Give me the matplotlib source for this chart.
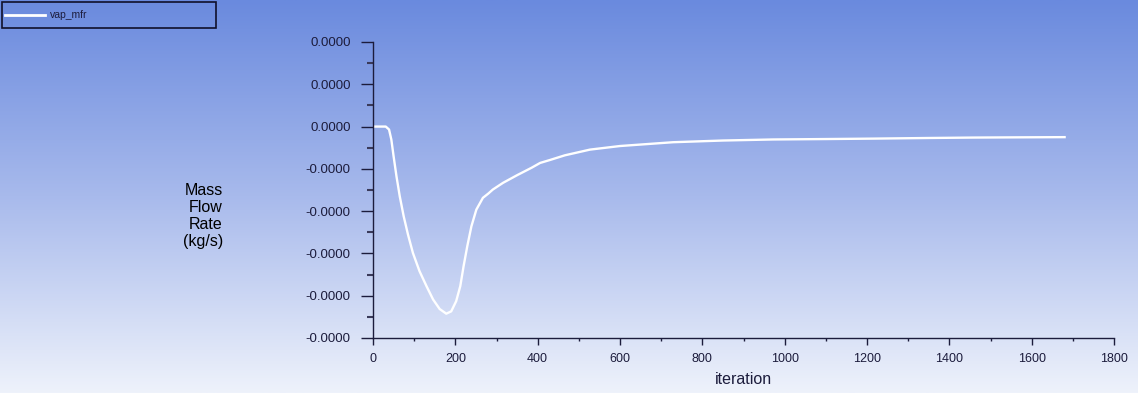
import numpy as np
import matplotlib
matplotlib.use("Agg")
import matplotlib.pyplot as plt
from matplotlib.ticker import FormatStrFormatter, MultipleLocator
from matplotlib.patches import Rectangle
from matplotlib.lines import Line2D

# ---- data ----
series_name = "vap_mfr"
iterations = [0, 20, 31, 39, 44.5, 50, 57, 65, 74.5, 85, 97, 113, 130, 146, 162,
              178, 190, 202, 212, 220, 229, 239, 251, 267, 280, 291, 316, 350,
              385, 406, 430, 466, 527, 600, 729, 850, 972, 1100, 1215, 1350,
              1458, 1560, 1680]
mass_flow = [0, 0, 0, -0.14e-6, -0.61e-6, -1.40e-6, -2.35e-6, -3.30e-6, -4.24e-6,
             -5.11e-6, -5.98e-6, -6.84e-6, -7.55e-6, -8.18e-6, -8.63e-6, -8.85e-6,
             -8.74e-6, -8.26e-6, -7.55e-6, -6.61e-6, -5.66e-6, -4.72e-6, -3.93e-6,
             -3.37e-6, -3.17e-6, -2.98e-6, -2.66e-6, -2.3e-6, -1.95e-6, -1.72e-6,
             -1.58e-6, -1.36e-6, -1.09e-6, -0.92e-6, -0.74e-6, -0.66e-6, -0.61e-6,
             -0.59e-6, -0.57e-6, -0.54e-6, -0.52e-6, -0.51e-6, -0.50e-6]
x_label = "iteration"
y_label = "Mass\nFlow\nRate\n(kg/s)"

W, H = 1138, 393
fig = plt.figure(figsize=(W / 100, H / 100), dpi=100)

# background gradient
bg = fig.add_axes([0, 0, 1, 1], zorder=-10)
top = np.array([106, 138, 222]) / 255
mid = np.array([168, 186, 236]) / 255
bot = np.array([238, 242, 251]) / 255
t = np.linspace(0, 1, 256)[:, None]
grad = np.where(t < 0.5, top + (mid - top) * (t / 0.5), mid + (bot - mid) * ((t - 0.5) / 0.5))
grad = np.repeat(grad[:, None, :], 2, axis=1)
bg.imshow(grad, aspect="auto", extent=[0, 1, 0, 1], origin="upper")
bg.axis("off")

axc = "#1c1c3c"
ax = fig.add_axes([373 / W, 55 / H, (1114 - 373) / W, (338 - 42) / H])
ax.set_facecolor("none")
ax.plot(iterations, mass_flow, color="white", lw=1.7, solid_joinstyle="round")
ax.set_xlim(0, 1800)
ax.set_ylim(-10e-6, 4e-6)
ax.xaxis.set_major_locator(MultipleLocator(200))
ax.xaxis.set_minor_locator(MultipleLocator(100))
ax.yaxis.set_major_locator(MultipleLocator(2e-6))
ax.yaxis.set_minor_locator(MultipleLocator(1e-6))
ax.yaxis.set_major_formatter(FormatStrFormatter("%.4f"))
for s in ["top", "right"]:
    ax.spines[s].set_visible(False)
for s in ["left", "bottom"]:
    ax.spines[s].set_color(axc)
    ax.spines[s].set_linewidth(1.0)
ax.tick_params(axis="y", which="major", length=9, width=1, color=axc, labelcolor=axc,
               labelsize=9.5, pad=7)
ax.tick_params(axis="y", which="minor", length=4, width=1.5, color="#3a3a5a")
ax.tick_params(axis="x", which="major", length=5, width=1, color=axc, labelcolor=axc,
               labelsize=9, pad=6)
ax.tick_params(axis="x", which="minor", length=2, width=1, color=axc)
for lab in ax.get_yticklabels():
    lab.set_family(["Liberation Sans", "DejaVu Sans"])
for lab in ax.get_xticklabels():
    lab.set_family(["Liberation Sans Narrow", "Liberation Sans", "DejaVu Sans"])

fig.text(743 / W, 1 - 380 / H, x_label, ha="center", va="center", fontsize=11.5,
         color=axc, family=["Liberation Sans Narrow", "Liberation Sans", "DejaVu Sans"])
fig.text(223 / W, 1 - 216 / H, y_label, ha="right", va="center", multialignment="right",
         fontsize=11.5, color="black", linespacing=1.15,
         family=["Liberation Sans", "DejaVu Sans"])

# legend box
fig.add_artist(Rectangle((2 / W, 1 - 28 / H), 214 / W, 26 / H, transform=fig.transFigure,
                         fill=False, edgecolor="#10102a", lw=1.2))
fig.add_artist(Line2D([5 / W, 45 / W], [1 - 15 / H, 1 - 15 / H], transform=fig.transFigure,
                      color="white", lw=2))
fig.text(50 / W, 1 - 15 / H, series_name, ha="left", va="center", fontsize=7.5,
         color=axc, family=["Liberation Sans", "DejaVu Sans"])

fig.savefig("out.png", dpi=100)
